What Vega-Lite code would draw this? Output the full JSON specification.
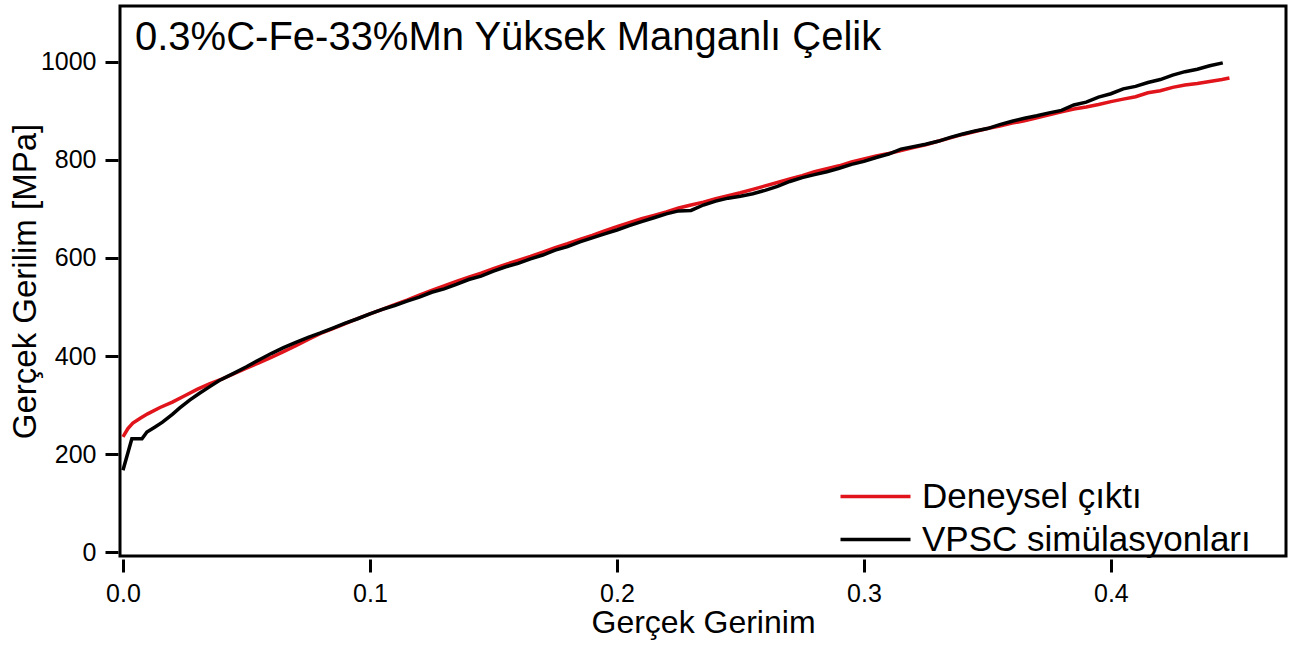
{
  "$schema": "https://vega.github.io/schema/vega-lite/v6.json",
  "width": 1166,
  "height": 550,
  "autosize": {"type": "none"},
  "padding": {"left": 120, "top": 6, "right": 10, "bottom": 89},
  "background": "white",
  "title": {
    "text": "0.3%C-Fe-33%Mn Yüksek Manganlı Çelik",
    "anchor": "start",
    "frame": "group",
    "orient": "top",
    "offset": 0,
    "dx": 15,
    "dy": 84,
    "baseline": "alphabetic",
    "font": "Liberation Sans",
    "fontSize": 40,
    "fontWeight": "normal",
    "color": "black"
  },
  "config": {
    "view": {"stroke": "black", "strokeWidth": 3},
    "axis": {"grid": false}
  },
  "datasets": {
    "curves": [
      {"strain": 0.000, "stress": 235, "series": "Deneysel çıktı"},
      {"strain": 0.002, "stress": 252, "series": "Deneysel çıktı"},
      {"strain": 0.004, "stress": 263, "series": "Deneysel çıktı"},
      {"strain": 0.007, "stress": 273, "series": "Deneysel çıktı"},
      {"strain": 0.010, "stress": 282, "series": "Deneysel çıktı"},
      {"strain": 0.015, "stress": 295, "series": "Deneysel çıktı"},
      {"strain": 0.020, "stress": 306, "series": "Deneysel çıktı"},
      {"strain": 0.025, "stress": 319, "series": "Deneysel çıktı"},
      {"strain": 0.030, "stress": 332, "series": "Deneysel çıktı"},
      {"strain": 0.035, "stress": 343, "series": "Deneysel çıktı"},
      {"strain": 0.040, "stress": 353, "series": "Deneysel çıktı"},
      {"strain": 0.045, "stress": 364, "series": "Deneysel çıktı"},
      {"strain": 0.050, "stress": 375, "series": "Deneysel çıktı"},
      {"strain": 0.055, "stress": 386, "series": "Deneysel çıktı"},
      {"strain": 0.060, "stress": 397, "series": "Deneysel çıktı"},
      {"strain": 0.065, "stress": 409, "series": "Deneysel çıktı"},
      {"strain": 0.070, "stress": 421, "series": "Deneysel çıktı"},
      {"strain": 0.075, "stress": 434, "series": "Deneysel çıktı"},
      {"strain": 0.080, "stress": 446, "series": "Deneysel çıktı"},
      {"strain": 0.085, "stress": 456, "series": "Deneysel çıktı"},
      {"strain": 0.090, "stress": 466, "series": "Deneysel çıktı"},
      {"strain": 0.095, "stress": 476, "series": "Deneysel çıktı"},
      {"strain": 0.100, "stress": 486, "series": "Deneysel çıktı"},
      {"strain": 0.105, "stress": 495, "series": "Deneysel çıktı"},
      {"strain": 0.110, "stress": 505, "series": "Deneysel çıktı"},
      {"strain": 0.115, "stress": 514, "series": "Deneysel çıktı"},
      {"strain": 0.120, "stress": 524, "series": "Deneysel çıktı"},
      {"strain": 0.125, "stress": 534, "series": "Deneysel çıktı"},
      {"strain": 0.130, "stress": 543, "series": "Deneysel çıktı"},
      {"strain": 0.135, "stress": 552, "series": "Deneysel çıktı"},
      {"strain": 0.140, "stress": 561, "series": "Deneysel çıktı"},
      {"strain": 0.145, "stress": 569, "series": "Deneysel çıktı"},
      {"strain": 0.150, "stress": 578, "series": "Deneysel çıktı"},
      {"strain": 0.155, "stress": 587, "series": "Deneysel çıktı"},
      {"strain": 0.160, "stress": 595, "series": "Deneysel çıktı"},
      {"strain": 0.165, "stress": 603, "series": "Deneysel çıktı"},
      {"strain": 0.170, "stress": 612, "series": "Deneysel çıktı"},
      {"strain": 0.175, "stress": 621, "series": "Deneysel çıktı"},
      {"strain": 0.180, "stress": 629, "series": "Deneysel çıktı"},
      {"strain": 0.185, "stress": 638, "series": "Deneysel çıktı"},
      {"strain": 0.190, "stress": 646, "series": "Deneysel çıktı"},
      {"strain": 0.195, "stress": 655, "series": "Deneysel çıktı"},
      {"strain": 0.200, "stress": 664, "series": "Deneysel çıktı"},
      {"strain": 0.205, "stress": 672, "series": "Deneysel çıktı"},
      {"strain": 0.210, "stress": 680, "series": "Deneysel çıktı"},
      {"strain": 0.215, "stress": 687, "series": "Deneysel çıktı"},
      {"strain": 0.220, "stress": 694, "series": "Deneysel çıktı"},
      {"strain": 0.225, "stress": 702, "series": "Deneysel çıktı"},
      {"strain": 0.230, "stress": 708, "series": "Deneysel çıktı"},
      {"strain": 0.235, "stress": 714, "series": "Deneysel çıktı"},
      {"strain": 0.240, "stress": 721, "series": "Deneysel çıktı"},
      {"strain": 0.245, "stress": 727, "series": "Deneysel çıktı"},
      {"strain": 0.250, "stress": 733, "series": "Deneysel çıktı"},
      {"strain": 0.255, "stress": 740, "series": "Deneysel çıktı"},
      {"strain": 0.260, "stress": 747, "series": "Deneysel çıktı"},
      {"strain": 0.265, "stress": 754, "series": "Deneysel çıktı"},
      {"strain": 0.270, "stress": 761, "series": "Deneysel çıktı"},
      {"strain": 0.275, "stress": 768, "series": "Deneysel çıktı"},
      {"strain": 0.280, "stress": 776, "series": "Deneysel çıktı"},
      {"strain": 0.285, "stress": 782, "series": "Deneysel çıktı"},
      {"strain": 0.290, "stress": 788, "series": "Deneysel çıktı"},
      {"strain": 0.295, "stress": 796, "series": "Deneysel çıktı"},
      {"strain": 0.300, "stress": 802, "series": "Deneysel çıktı"},
      {"strain": 0.305, "stress": 808, "series": "Deneysel çıktı"},
      {"strain": 0.310, "stress": 813, "series": "Deneysel çıktı"},
      {"strain": 0.315, "stress": 819, "series": "Deneysel çıktı"},
      {"strain": 0.320, "stress": 825, "series": "Deneysel çıktı"},
      {"strain": 0.325, "stress": 831, "series": "Deneysel çıktı"},
      {"strain": 0.330, "stress": 838, "series": "Deneysel çıktı"},
      {"strain": 0.335, "stress": 845, "series": "Deneysel çıktı"},
      {"strain": 0.340, "stress": 852, "series": "Deneysel çıktı"},
      {"strain": 0.345, "stress": 858, "series": "Deneysel çıktı"},
      {"strain": 0.350, "stress": 864, "series": "Deneysel çıktı"},
      {"strain": 0.355, "stress": 869, "series": "Deneysel çıktı"},
      {"strain": 0.360, "stress": 875, "series": "Deneysel çıktı"},
      {"strain": 0.365, "stress": 880, "series": "Deneysel çıktı"},
      {"strain": 0.370, "stress": 886, "series": "Deneysel çıktı"},
      {"strain": 0.375, "stress": 892, "series": "Deneysel çıktı"},
      {"strain": 0.380, "stress": 898, "series": "Deneysel çıktı"},
      {"strain": 0.385, "stress": 904, "series": "Deneysel çıktı"},
      {"strain": 0.390, "stress": 908, "series": "Deneysel çıktı"},
      {"strain": 0.395, "stress": 913, "series": "Deneysel çıktı"},
      {"strain": 0.400, "stress": 919, "series": "Deneysel çıktı"},
      {"strain": 0.405, "stress": 924, "series": "Deneysel çıktı"},
      {"strain": 0.410, "stress": 929, "series": "Deneysel çıktı"},
      {"strain": 0.415, "stress": 937, "series": "Deneysel çıktı"},
      {"strain": 0.420, "stress": 941, "series": "Deneysel çıktı"},
      {"strain": 0.425, "stress": 948, "series": "Deneysel çıktı"},
      {"strain": 0.430, "stress": 953, "series": "Deneysel çıktı"},
      {"strain": 0.435, "stress": 956, "series": "Deneysel çıktı"},
      {"strain": 0.440, "stress": 960, "series": "Deneysel çıktı"},
      {"strain": 0.445, "stress": 964, "series": "Deneysel çıktı"},
      {"strain": 0.448, "stress": 967, "series": "Deneysel çıktı"},
      {"strain": 0.000, "stress": 167, "series": "VPSC simülasyonları"},
      {"strain": 0.0036, "stress": 231, "series": "VPSC simülasyonları"},
      {"strain": 0.0077, "stress": 231, "series": "VPSC simülasyonları"},
      {"strain": 0.0097, "stress": 245, "series": "VPSC simülasyonları"},
      {"strain": 0.013, "stress": 255, "series": "VPSC simülasyonları"},
      {"strain": 0.016, "stress": 265, "series": "VPSC simülasyonları"},
      {"strain": 0.020, "stress": 281, "series": "VPSC simülasyonları"},
      {"strain": 0.023, "stress": 294, "series": "VPSC simülasyonları"},
      {"strain": 0.027, "stress": 310, "series": "VPSC simülasyonları"},
      {"strain": 0.031, "stress": 324, "series": "VPSC simülasyonları"},
      {"strain": 0.035, "stress": 337, "series": "VPSC simülasyonları"},
      {"strain": 0.039, "stress": 350, "series": "VPSC simülasyonları"},
      {"strain": 0.045, "stress": 365, "series": "VPSC simülasyonları"},
      {"strain": 0.050, "stress": 378, "series": "VPSC simülasyonları"},
      {"strain": 0.055, "stress": 392, "series": "VPSC simülasyonları"},
      {"strain": 0.060, "stress": 405, "series": "VPSC simülasyonları"},
      {"strain": 0.065, "stress": 417, "series": "VPSC simülasyonları"},
      {"strain": 0.070, "stress": 428, "series": "VPSC simülasyonları"},
      {"strain": 0.075, "stress": 438, "series": "VPSC simülasyonları"},
      {"strain": 0.080, "stress": 447, "series": "VPSC simülasyonları"},
      {"strain": 0.085, "stress": 457, "series": "VPSC simülasyonları"},
      {"strain": 0.090, "stress": 467, "series": "VPSC simülasyonları"},
      {"strain": 0.095, "stress": 476, "series": "VPSC simülasyonları"},
      {"strain": 0.100, "stress": 486, "series": "VPSC simülasyonları"},
      {"strain": 0.105, "stress": 495, "series": "VPSC simülasyonları"},
      {"strain": 0.110, "stress": 503, "series": "VPSC simülasyonları"},
      {"strain": 0.115, "stress": 512, "series": "VPSC simülasyonları"},
      {"strain": 0.120, "stress": 520, "series": "VPSC simülasyonları"},
      {"strain": 0.125, "stress": 530, "series": "VPSC simülasyonları"},
      {"strain": 0.130, "stress": 537, "series": "VPSC simülasyonları"},
      {"strain": 0.135, "stress": 546, "series": "VPSC simülasyonları"},
      {"strain": 0.140, "stress": 556, "series": "VPSC simülasyonları"},
      {"strain": 0.145, "stress": 563, "series": "VPSC simülasyonları"},
      {"strain": 0.150, "stress": 573, "series": "VPSC simülasyonları"},
      {"strain": 0.155, "stress": 582, "series": "VPSC simülasyonları"},
      {"strain": 0.160, "stress": 589, "series": "VPSC simülasyonları"},
      {"strain": 0.165, "stress": 598, "series": "VPSC simülasyonları"},
      {"strain": 0.170, "stress": 606, "series": "VPSC simülasyonları"},
      {"strain": 0.175, "stress": 616, "series": "VPSC simülasyonları"},
      {"strain": 0.180, "stress": 623, "series": "VPSC simülasyonları"},
      {"strain": 0.185, "stress": 633, "series": "VPSC simülasyonları"},
      {"strain": 0.190, "stress": 641, "series": "VPSC simülasyonları"},
      {"strain": 0.195, "stress": 649, "series": "VPSC simülasyonları"},
      {"strain": 0.200, "stress": 657, "series": "VPSC simülasyonları"},
      {"strain": 0.205, "stress": 666, "series": "VPSC simülasyonları"},
      {"strain": 0.210, "stress": 674, "series": "VPSC simülasyonları"},
      {"strain": 0.215, "stress": 682, "series": "VPSC simülasyonları"},
      {"strain": 0.220, "stress": 690, "series": "VPSC simülasyonları"},
      {"strain": 0.225, "stress": 696, "series": "VPSC simülasyonları"},
      {"strain": 0.230, "stress": 697, "series": "VPSC simülasyonları"},
      {"strain": 0.235, "stress": 708, "series": "VPSC simülasyonları"},
      {"strain": 0.240, "stress": 716, "series": "VPSC simülasyonları"},
      {"strain": 0.245, "stress": 722, "series": "VPSC simülasyonları"},
      {"strain": 0.250, "stress": 726, "series": "VPSC simülasyonları"},
      {"strain": 0.255, "stress": 731, "series": "VPSC simülasyonları"},
      {"strain": 0.260, "stress": 738, "series": "VPSC simülasyonları"},
      {"strain": 0.265, "stress": 746, "series": "VPSC simülasyonları"},
      {"strain": 0.270, "stress": 756, "series": "VPSC simülasyonları"},
      {"strain": 0.275, "stress": 764, "series": "VPSC simülasyonları"},
      {"strain": 0.280, "stress": 770, "series": "VPSC simülasyonları"},
      {"strain": 0.285, "stress": 776, "series": "VPSC simülasyonları"},
      {"strain": 0.290, "stress": 783, "series": "VPSC simülasyonları"},
      {"strain": 0.295, "stress": 791, "series": "VPSC simülasyonları"},
      {"strain": 0.300, "stress": 797, "series": "VPSC simülasyonları"},
      {"strain": 0.305, "stress": 805, "series": "VPSC simülasyonları"},
      {"strain": 0.310, "stress": 812, "series": "VPSC simülasyonları"},
      {"strain": 0.315, "stress": 822, "series": "VPSC simülasyonları"},
      {"strain": 0.320, "stress": 827, "series": "VPSC simülasyonları"},
      {"strain": 0.325, "stress": 832, "series": "VPSC simülasyonları"},
      {"strain": 0.330, "stress": 838, "series": "VPSC simülasyonları"},
      {"strain": 0.335, "stress": 846, "series": "VPSC simülasyonları"},
      {"strain": 0.340, "stress": 853, "series": "VPSC simülasyonları"},
      {"strain": 0.345, "stress": 859, "series": "VPSC simülasyonları"},
      {"strain": 0.350, "stress": 864, "series": "VPSC simülasyonları"},
      {"strain": 0.355, "stress": 872, "series": "VPSC simülasyonları"},
      {"strain": 0.360, "stress": 879, "series": "VPSC simülasyonları"},
      {"strain": 0.365, "stress": 885, "series": "VPSC simülasyonları"},
      {"strain": 0.370, "stress": 890, "series": "VPSC simülasyonları"},
      {"strain": 0.375, "stress": 896, "series": "VPSC simülasyonları"},
      {"strain": 0.380, "stress": 901, "series": "VPSC simülasyonları"},
      {"strain": 0.385, "stress": 912, "series": "VPSC simülasyonları"},
      {"strain": 0.390, "stress": 918, "series": "VPSC simülasyonları"},
      {"strain": 0.395, "stress": 928, "series": "VPSC simülasyonları"},
      {"strain": 0.400, "stress": 935, "series": "VPSC simülasyonları"},
      {"strain": 0.405, "stress": 945, "series": "VPSC simülasyonları"},
      {"strain": 0.410, "stress": 950, "series": "VPSC simülasyonları"},
      {"strain": 0.415, "stress": 958, "series": "VPSC simülasyonları"},
      {"strain": 0.420, "stress": 964, "series": "VPSC simülasyonları"},
      {"strain": 0.425, "stress": 973, "series": "VPSC simülasyonları"},
      {"strain": 0.430, "stress": 980, "series": "VPSC simülasyonları"},
      {"strain": 0.435, "stress": 985, "series": "VPSC simülasyonları"},
      {"strain": 0.440, "stress": 992, "series": "VPSC simülasyonları"},
      {"strain": 0.4453, "stress": 998, "series": "VPSC simülasyonları"}
    ]
  },
  "data": {"name": "curves"},
  "mark": {"type": "line", "strokeWidth": 3.5, "clip": true},
  "encoding": {
    "x": {
      "field": "strain",
      "type": "quantitative",
      "scale": {"domain": [-0.0012, 0.4709], "nice": false, "zero": false},
      "axis": {
        "title": "Gerçek Gerinim",
        "values": [0, 0.1, 0.2, 0.3, 0.4],
        "format": ".1f",
        "domain": false,
        "offset": 3,
        "tickSize": 13,
        "tickWidth": 3,
        "tickColor": "black",
        "labelFont": "Liberation Sans",
        "labelFontSize": 25,
        "labelFontWeight": "normal",
        "labelColor": "black",
        "labelPadding": 9,
        "titleFont": "Liberation Sans",
        "titleFontSize": 32,
        "titleFontWeight": "normal",
        "titleColor": "black",
        "titlePadding": 1
      }
    },
    "y": {
      "field": "stress",
      "type": "quantitative",
      "scale": {"domain": [-8, 1114], "nice": false, "zero": false},
      "axis": {
        "title": "Gerçek Gerilim [MPa]",
        "values": [0, 200, 400, 600, 800, 1000],
        "format": "d",
        "domain": false,
        "offset": 2,
        "tickSize": 13,
        "tickWidth": 3,
        "tickColor": "black",
        "labelFont": "Liberation Sans",
        "labelFontSize": 25,
        "labelFontWeight": "normal",
        "labelColor": "black",
        "labelPadding": 9,
        "titleFont": "Liberation Sans",
        "titleFontSize": 33,
        "titleFontWeight": "normal",
        "titleColor": "black",
        "titlePadding": -2
      }
    },
    "color": {
      "field": "series",
      "type": "nominal",
      "sort": ["Deneysel çıktı", "VPSC simülasyonları"],
      "scale": {"domain": ["Deneysel çıktı", "VPSC simülasyonları"], "range": ["#e0141a", "#000000"]},
      "legend": {
        "title": null,
        "orient": "none",
        "legendX": 738,
        "legendY": 473,
        "padding": 0,
        "symbolType": "M-2.5,0H2.5",
        "symbolSize": 784,
        "symbolStrokeWidth": 3.5,
        "symbolFillColor": "transparent",
        "labelFont": "Liberation Sans",
        "labelFontSize": 35,
        "labelColor": "black",
        "labelOffset": 29,
        "labelLimit": 500,
        "rowPadding": 7
      }
    }
  }
}
